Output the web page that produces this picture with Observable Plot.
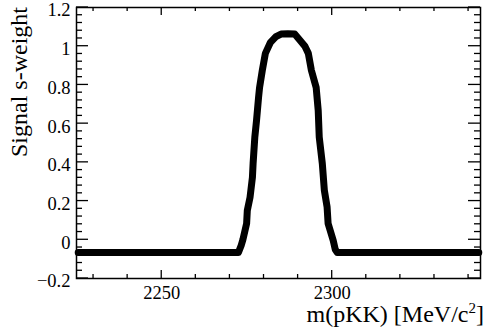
<!DOCTYPE html>
<html>
<head>
<meta charset="utf-8">
<script src="https://cdn.jsdelivr.net/npm/d3@7"></script>
<script src="https://cdn.jsdelivr.net/npm/@observablehq/plot@0.6"></script>
<style>
  html, body { margin: 0; padding: 0; background: #fff; }
  svg { display: block; }
  svg, svg text, svg g { font-family: 'Liberation Serif', 'DejaVu Serif', serif !important; }
</style>
</head>
<body>
<div id="chart"></div>
<script>
// m(pKK) [MeV/c^2] and signal sWeight
const mass = [2225.5, 2240, 2255, 2265, 2272.5, 2273.3, 2273.8, 2274.9, 2275.1, 2275.9, 2276.6, 2276.8, 2277.3, 2277.8, 2278.4, 2278.7, 2279.5, 2280.4, 2281.9, 2283.5, 2285, 2287, 2289, 2290.6, 2292, 2293.0, 2293.9, 2295.3, 2295.9, 2296.2, 2297.1, 2297.7, 2298.5, 2298.8, 2300.3, 2300.9, 2301.5, 2310, 2325, 2343];
const sweight = [-0.066, -0.066, -0.066, -0.066, -0.066, -0.03, 0.0, 0.084, 0.151, 0.219, 0.322, 0.394, 0.529, 0.616, 0.735, 0.787, 0.875, 0.963, 1.02, 1.05, 1.063, 1.065, 1.063, 1.03, 1.0, 0.963, 0.875, 0.787, 0.667, 0.53, 0.394, 0.255, 0.17, 0.084, -0.004, -0.05, -0.066, -0.066, -0.066, -0.066];

const xMajor = [2250, 2300];
const xMinor = [2230, 2240, 2260, 2270, 2280, 2290, 2310, 2320, 2330, 2340];
const yMajor = [-0.2, 0, 0.2, 0.4, 0.6, 0.8, 1, 1.2];
const yMinor = [-0.16, -0.12, -0.08, -0.04, 0.04, 0.08, 0.12, 0.16, 0.24, 0.28, 0.32, 0.36, 0.44, 0.48, 0.52, 0.56, 0.64, 0.68, 0.72, 0.76, 0.84, 0.88, 0.92, 0.96, 1.04, 1.08, 1.12, 1.16];

const xTitle = "m(pKK) [MeV/c";
const yTitle = "Signal s-weight";

const data = mass.map((m, i) => ({m, w: sweight[i]}));
const font = "'Liberation Serif', 'DejaVu Serif', serif";

const chart = Plot.plot({
  width: 486,
  height: 334,
  marginLeft: 76,
  marginRight: 6,
  marginTop: 7,
  marginBottom: 56,
  style: {fontFamily: font, color: "black", background: "white"},
  x: {domain: [2225, 2343.5]},
  y: {domain: [-0.2, 1.2]},
  marks: [
    Plot.axisX({ticks: xMajor, tickSize: 0, tickPadding: 7, fontSize: 18.5, fontFamily: font, tickFormat: d3.format("d"), label: null}),
    Plot.axisY({ticks: yMajor, tickSize: 0, tickPadding: 6, fontSize: 18.5, fontFamily: font, dy: 3,
      tickFormat: d => (d < 0 ? "\u2212" : "") + Math.abs(d), label: null}),
    Plot.line(data, {x: "m", y: "w", stroke: "black", strokeWidth: 7, strokeLinejoin: "round", strokeLinecap: "round"}),
    Plot.frame({stroke: "black", strokeWidth: 1.5})
  ]
});

const xs = chart.scale("x"), ys = chart.scale("y");
const svg = d3.select(chart);
svg.selectAll("text").style("font-family", font).style("font-variant", "normal");
const g = svg.append("g").attr("stroke", "black").attr("stroke-width", 1.3);
const [x0, x1] = xs.range;
const [y0, y1] = ys.range; // bottom, top
function tickX(v, len) {
  const px = xs.apply(v);
  g.append("line").attr("x1", px).attr("x2", px).attr("y1", y0).attr("y2", y0 - len);
  g.append("line").attr("x1", px).attr("x2", px).attr("y1", y1).attr("y2", y1 + len);
}
function tickY(v, len) {
  const py = ys.apply(v);
  g.append("line").attr("x1", x0).attr("x2", x0 + len).attr("y1", py).attr("y2", py);
  g.append("line").attr("x1", x1).attr("x2", x1 - len).attr("y1", py).attr("y2", py);
}
xMajor.forEach(v => tickX(v, 8));
xMinor.forEach(v => tickX(v, 4));
yMajor.forEach(v => tickY(v, 12));
yMinor.forEach(v => tickY(v, 6));

const tx = svg.append("text")
  .attr("x", 484).attr("y", 322)
  .attr("text-anchor", "end")
  .style("font-family", font).attr("font-size", 24).attr("fill", "black");
tx.append("tspan").text(xTitle);
tx.append("tspan").attr("font-size", 15).attr("dy", -9).text("2");
tx.append("tspan").attr("dy", 9).text("]");

svg.append("text")
  .attr("transform", "translate(27,7) rotate(-90)")
  .attr("text-anchor", "end")
  .style("font-family", font).attr("font-size", 24).attr("fill", "black")
  .text(yTitle);

document.getElementById("chart").appendChild(chart);
</script>
</body>
</html>
